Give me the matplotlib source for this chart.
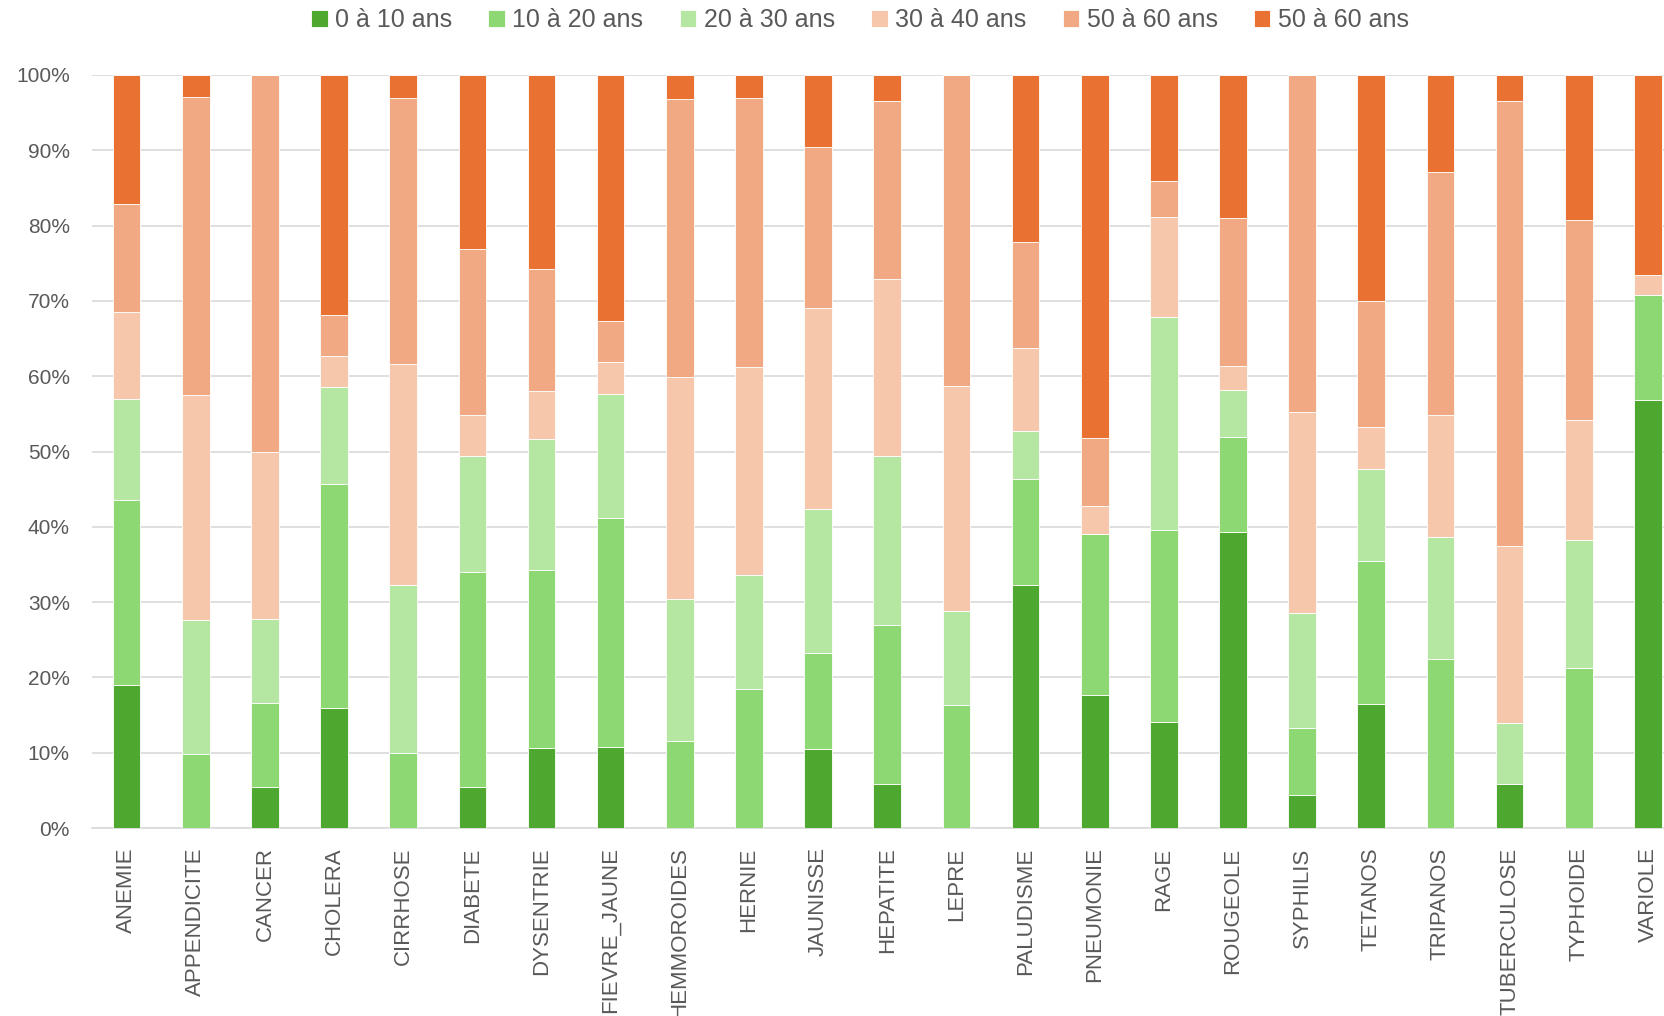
import matplotlib
matplotlib.use("Agg")
import matplotlib.pyplot as plt
import numpy as np

plt.rcParams['font.family'] = ['Liberation Sans', 'DejaVu Sans']

categories = ["ANEMIE", "APPENDICITE", "CANCER", "CHOLERA", "CIRRHOSE", "DIABETE",
              "DYSENTRIE", "FIEVRE_JAUNE", "HEMMOROIDES", "HERNIE", "JAUNISSE",
              "HEPATITE", "LEPRE", "PALUDISME", "PNEUMONIE", "RAGE", "ROUGEOLE",
              "SYPHILIS", "TETANOS", "TRIPANOS", "TUBERCULOSE", "TYPHOIDE", "VARIOLE"]

series_names = ["0 à 10 ans", "10 à 20 ans", "20 à 30 ans", "30 à 40 ans",
                "50 à 60 ans", "50 à 60 ans"]

age_0_10 = [19.0, 0, 5.5, 15.9, 0, 5.5, 10.6, 10.7, 0, 0, 10.5, 5.8, 0, 32.3, 17.7,
            14.1, 39.3, 4.4, 16.5, 0, 5.8, 0, 56.8]
age_10_20 = [24.6, 9.9, 11.1, 29.8, 10.0, 28.5, 23.7, 30.5, 11.5, 18.4, 12.8, 21.2,
             16.3, 14.0, 21.4, 25.5, 12.6, 8.9, 19.0, 22.5, 0, 21.2, 14.0]
age_20_30 = [13.4, 17.8, 11.1, 12.8, 22.3, 15.4, 17.3, 16.4, 18.9, 15.2, 19.1, 22.4,
             12.5, 6.4, 0, 28.2, 6.3, 15.2, 12.2, 16.1, 8.1, 17.0, 0]
age_30_40 = [11.5, 29.8, 22.3, 4.2, 29.3, 5.5, 6.4, 4.3, 29.5, 27.6, 26.7, 23.5,
             29.9, 11.1, 3.7, 13.3, 3.2, 26.8, 5.5, 16.2, 23.6, 16.0, 2.6]
age_50_60_a = [14.4, 39.7, 50.0, 5.4, 35.4, 22.0, 16.2, 5.4, 36.9, 35.8, 21.3, 23.6,
               41.3, 14.0, 9.0, 4.8, 19.6, 44.7, 16.8, 32.3, 59.0, 26.6, 0]
age_50_60_b = [17.1, 2.9, 0, 31.9, 3.0, 23.1, 25.8, 32.7, 3.2, 3.0, 9.6, 3.5, 0,
               22.2, 48.2, 14.1, 19.0, 0, 30.0, 12.9, 3.5, 19.2, 26.6]

colors = ["#4EA72E", "#8ED873", "#B5E6A2", "#F7C7AC", "#F1A983", "#E97132"]

data = np.array([age_0_10, age_10_20, age_20_30, age_30_40, age_50_60_a, age_50_60_b], dtype=float)
data = data / data.sum(axis=0) * 100.0

W, H = 1665, 1016
fig = plt.figure(figsize=(W / 100, H / 100), dpi=100)
ax = fig.add_axes([92 / W, (H - 828) / H, 1590.5 / W, (828 - 75) / H])

x = np.arange(len(categories))
bottom = np.zeros(len(categories))
handles = []
for i in range(len(series_names)):
    b = ax.bar(x, data[i], 0.4, bottom=bottom, color=colors[i], edgecolor='white',
               linewidth=0.6, label=series_names[i], zorder=3)
    handles.append(b)
    bottom += data[i]

ax.set_xlim(-0.5, len(categories) - 0.5)
ax.set_ylim(0, 100)
ax.set_yticks(np.arange(0, 101, 10))
ax.set_yticklabels([f"{v}%" for v in range(0, 101, 10)])
ax.grid(axis='y', color='#D9D9D9', linewidth=1.2, zorder=0)
ax.set_axisbelow(True)
for s in ['top', 'right', 'left']:
    ax.spines[s].set_visible(False)
ax.spines['bottom'].set_color('#D9D9D9')
ax.spines['bottom'].set_linewidth(1.2)

ax.set_xticks(x)
ax.set_xticklabels(categories, rotation=90, fontsize=16, color='#595959')
ax.tick_params(axis='x', length=0, pad=14)
ax.tick_params(axis='y', length=0, pad=16, labelsize=15, labelcolor='#595959')

fig.legend(handles=handles, labels=series_names, loc='center',
           bbox_to_anchor=(860 / W, 1 - 20 / H), ncol=6, frameon=False,
           fontsize=18, handlelength=0.66, handleheight=0.66,
           handletextpad=0.3, columnspacing=1.45, labelcolor='#595959')

fig.savefig("out.png", dpi=100)
